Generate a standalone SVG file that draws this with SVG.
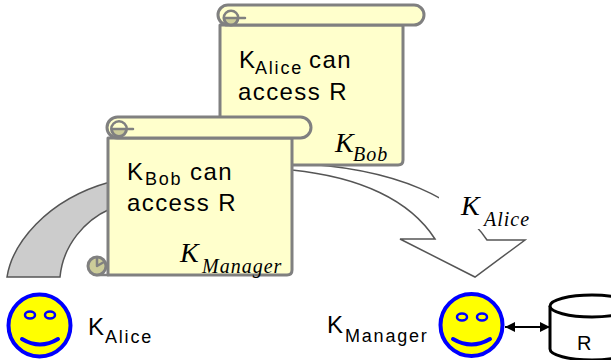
<svg xmlns="http://www.w3.org/2000/svg" width="611" height="360" viewBox="0 0 611 360">
  <defs>
    <style>
      .paper { fill: #ffffcc; stroke: #808080; stroke-width: 3; stroke-linejoin: round; }
      .curl { fill: #cccc99; stroke: #808080; stroke-width: 3; }
      .curl-line { fill: none; stroke: #808080; stroke-width: 2.5; stroke-linecap: round; }
      .big { font-family: "Liberation Sans", Arial, sans-serif; font-size: 24px; letter-spacing: 1.4px; fill: #000; }
      .k { font-family: "Liberation Sans", Arial, sans-serif; font-size: 24px; fill: #000; }
      .sub { font-family: "Liberation Sans", Arial, sans-serif; font-size: 18px; letter-spacing: 1.8px; fill: #000; }
      .sig { font-family: "Liberation Serif", "DejaVu Serif", serif; font-style: italic; font-size: 28px; fill: #000; }
      .sigsub { font-family: "Liberation Serif", "DejaVu Serif", serif; font-style: italic; font-size: 20px; letter-spacing: 1px; fill: #000; }
      .flow { stroke: #555555; stroke-width: 1.5; stroke-linejoin: miter; }
      .face { fill: #ffff00; stroke: #0000ff; stroke-width: 4; }
      .eye { fill: #ffff00; stroke: #0000ff; stroke-width: 2.5; }
      .mouth { fill: none; stroke: #0000ff; stroke-width: 4; stroke-linecap: round; }
      .db { fill: #ffffff; stroke: #000000; stroke-width: 3; }
    </style>
    <marker id="head" viewBox="0 0 10 10" refX="10" refY="5" markerWidth="10" markerHeight="10" markerUnits="userSpaceOnUse" orient="auto-start-reverse">
      <path d="M0,0 L10,5 L0,10 Z" fill="#000"/>
    </marker>
  </defs>

  <rect width="611" height="360" fill="#ffffff"/>

  <!-- connectors: the delegation flow and the manager/resource link -->
  <g id="connectors">
    <path class="flow" fill="#cccccc" d="M7,277 C12,245 45,200 110,182 L110,209 C85,220 63,245 60,277 Z"/>
    <path class="flow" fill="#ffffff" d="M292,163 C400,168 460,200 487,240 L525,240 L475,277 L400,239 L435,239 C410,200 360,177 292,170 Z"/>
    <line x1="505" y1="327" x2="550" y2="327" stroke="#000" stroke-width="2" marker-start="url(#head)" marker-end="url(#head)"/>
  </g>

  <!-- flow label -->
  <g id="label-alice-key">
    <rect x="439" y="186" width="92" height="43" fill="#ffffff"/>
    <text class="sig" x="461" y="215">K</text>
    <text class="sigsub" x="484" y="226">Alice</text>
  </g>

  <!-- certificate signed by Bob -->
  <g id="cert-bob">
    <path class="paper" d="M220,25 V160 Q220,165 225,165 H398 Q403,165 403,160 V25 Z"/>
    <rect class="paper" x="218" y="5" width="206" height="20" rx="10"/>
    <circle class="curl" cx="231" cy="18" r="7"/>
    <path d="M225,18 A6,6 0 0 1 237,18 Z" fill="#ffffcc"/>
    <line class="curl-line" x1="224" y1="18" x2="245" y2="18"/>
    <text class="k" x="239" y="68">K</text>
    <text class="sub" x="255" y="74">Alice</text>
    <text class="big" x="309" y="68">can</text>
    <text class="big" x="238" y="100">access R</text>
    <text class="sig" x="335" y="152">K</text>
    <text class="sigsub" x="353" y="161">Bob</text>
  </g>

  <!-- certificate signed by the manager -->
  <g id="cert-manager">
    <path class="paper" d="M108,138 V275 H287 Q292,275 292,270 V138 Z"/>
    <rect class="paper" x="107" y="117" width="204" height="21" rx="10.5"/>
    <circle class="curl" cx="119" cy="129" r="7.5"/>
    <path d="M112.5,129 A6.5,6.5 0 0 1 125.5,129 Z" fill="#ffffcc"/>
    <line class="curl-line" x1="112" y1="129" x2="133" y2="129"/>
    <line class="curl-line" x1="96" y1="275" x2="108" y2="275"/>
    <circle class="curl" cx="97" cy="266" r="9"/>
    <path class="curl-line" d="M97,266 L97,259 M97,266 L104,262"/>
    <text class="k" x="127" y="180">K</text>
    <text class="sub" x="145" y="185">Bob</text>
    <text class="big" x="190" y="180">can</text>
    <text class="big" x="127" y="211">access R</text>
    <text class="sig" x="180" y="262">K</text>
    <text class="sigsub" x="202" y="273">Manager</text>
  </g>

  <!-- Alice -->
  <g id="alice">
    <circle class="face" cx="39.5" cy="325.5" r="31"/>
    <ellipse class="eye" cx="30" cy="315" rx="5" ry="3.5"/>
    <ellipse class="eye" cx="50" cy="315" rx="5" ry="3.5"/>
    <path class="mouth" d="M22,339 Q40,350 58,339"/>
    <text class="k" x="88" y="335">K</text>
    <text class="sub" x="105" y="343">Alice</text>
  </g>

  <!-- Manager -->
  <g id="manager">
    <circle class="face" cx="471.5" cy="325" r="31"/>
    <ellipse class="eye" cx="462" cy="317" rx="5" ry="3.5"/>
    <ellipse class="eye" cx="482" cy="317" rx="5" ry="3.5"/>
    <path class="mouth" d="M453,339 Q471.5,350 490,339"/>
    <text class="k" x="327" y="333">K</text>
    <text class="sub" x="345" y="342">Manager</text>
  </g>

  <!-- Resource R -->
  <g id="resource">
    <path class="db" d="M550,306 V349 A42,11 0 0 0 634,349 V306"/>
    <ellipse class="db" cx="592" cy="306" rx="42" ry="11"/>
    <text x="577" y="350" font-family="Liberation Sans, Arial, sans-serif" font-size="20">R</text>
  </g>
</svg>
